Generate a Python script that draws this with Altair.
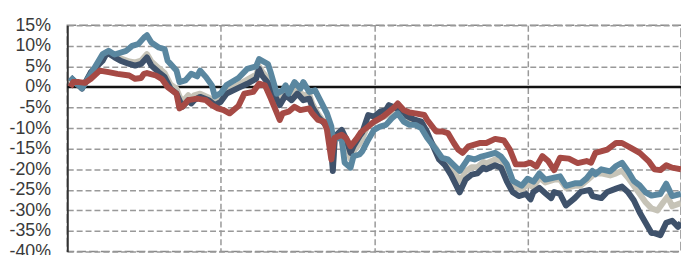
import altair as alt
import pandas as pd

# ---- data (cumulative return, %, by week) ----
steel_w = [1, 4, 5, 8, 12, 14, 16, 20, 22, 24, 26, 27, 28.5, 31, 33, 34, 37, 38, 40, 42, 44, 45, 47, 49, 50, 52,
           54, 58, 61, 64, 65, 68, 69, 71, 73, 74, 75, 77, 79, 80, 82, 84, 86, 88, 89.5, 90, 92, 93, 94, 96, 97,
           99, 100, 102, 104, 106, 108, 110, 112, 114, 116, 118, 120, 122, 125, 127, 129, 131, 133, 135, 136, 138,
           140, 142, 145, 147, 149, 151, 154, 156, 158, 160, 162, 165, 167, 169, 172, 174, 176, 178, 179, 181, 184,
           186, 188, 190, 192, 194, 196, 198, 201, 203, 205, 208]
steel_v = [2.4, 0.4, -0.3, 3.2, 8.0, 8.8, 7.9, 8.8, 10.0, 10.4, 12.0, 12.6, 10.8, 9.6, 9.2, 6.4, 4.0, 1.2, 1.6, 3.2,
           2.6, 4.0, 2.4, 0.4, -2.3, -1.5, 0.5, 2.2, 4.4, 5.0, 6.8, 5.6, 3.4, -1.6, -0.8, 0.4, -1.6, 1.2, -0.4, 1.2,
           -1.2, -0.8, -3.6, -6.4, -9.6, -12.4, -12.4, -12.8, -18.4, -19.6, -16.8, -16.4, -15.6, -12.8, -10.4, -9.6,
           -9.2, -7.6, -6.4, -8.4, -9.2, -9.2, -10.0, -12.4, -15.2, -17.2, -17.6, -19.0, -20.4, -18.3, -17.2, -17.6,
           -17.0, -16.6, -16.0, -16.9, -18.8, -22.8, -24.0, -22.3, -23.0, -21.0, -22.5, -22.0, -21.7, -24.0, -23.4,
           -23.4, -22.2, -20.4, -21.2, -20.0, -20.5, -19.2, -18.4, -20.4, -22.8, -23.9, -25.6, -26.4, -26.0, -23.5,
           -26.5, -26.0]

navy_w = [1, 5, 8, 12, 13.5, 16, 18, 21, 23, 25, 27, 28.5, 31, 33, 35, 37, 38, 39, 41, 42, 43, 45, 48, 50, 52, 54,
          58, 61, 64, 65, 66, 68, 70, 72, 74, 76, 78, 80, 82, 83, 85, 88, 89, 90, 90.7, 93, 94.5, 96, 97, 99, 100,
          102, 104, 106, 108, 109, 111, 114, 115, 116, 118, 120, 122, 124, 126, 128, 130, 133, 135, 137, 139, 141,
          142, 145, 147, 149, 151, 153, 155.5, 157, 158, 160, 162, 164, 165, 167, 169, 172, 174, 177, 178, 181, 183,
          186, 188, 190, 192, 194, 196, 198, 199, 201, 203, 205, 207, 208]
navy_v = [2.4, -0.4, 3.6, 6.4, 8.4, 7.2, 6.4, 5.6, 5.2, 5.6, 7.2, 5.2, 3.6, 2.4, -0.4, -1.6, -3.2, -4.8, -3.2, -4.0,
          -3.2, -2.4, -3.2, -4.4, -3.6, -1.6, -0.2, 0.8, 2.0, 4.4, 2.8, 1.0, -1.6, -4.4, -2.0, -3.2, -1.6, -3.2, -2.8,
          -4.8, -7.2, -9.6, -11.0, -20.4, -12.0, -10.4, -12.6, -16.0, -14.4, -12.0, -11.0, -6.8, -7.2, -6.0, -5.6,
          -4.4, -5.0, -6.0, -7.0, -7.4, -8.0, -8.4, -11.0, -14.4, -17.6, -19.0, -21.3, -25.6, -22.5, -21.3, -21.0,
          -19.6, -20.0, -19.0, -19.6, -23.0, -25.6, -26.5, -26.0, -27.3, -25.5, -24.5, -25.8, -27.0, -25.5, -26.0,
          -28.8, -27.0, -25.5, -25.0, -26.5, -27.0, -25.5, -24.7, -24.2, -25.5, -27.5, -30.5, -33.0, -35.5, -35.5,
          -36.0, -33.0, -32.5, -34.0, -33.0]

gray_w = [1, 5, 8, 12, 13.5, 16, 18, 21, 23, 25, 27, 28.5, 31, 33, 35, 37, 38, 39, 41, 42, 43, 45, 48, 50, 52, 54,
          58, 61, 64, 65, 66, 68, 70, 72, 74, 76, 78, 80, 82, 83, 85, 88, 89, 90, 90.7, 93, 94.5, 96, 97, 99, 100,
          102, 104, 106, 108, 110, 112, 114, 116, 118, 120, 122, 125, 127, 129, 131, 133, 135, 137, 139, 141, 142,
          145, 147, 149, 151, 154, 156, 158, 160, 162, 165, 167, 169, 172, 174, 176, 178, 179, 181, 184, 186, 188,
          190, 192, 194, 196, 198, 200, 202, 203.5, 205, 208]
gray_v = [2.0, -0.2, 3.4, 6.8, 8.2, 7.6, 7.0, 6.2, 6.0, 6.4, 8.0, 6.2, 4.6, 3.4, 0.6, -0.4, -2.2, -3.6, -2.0, -2.8,
          -2.0, -1.6, -2.6, -3.8, -3.0, -0.8, 0.6, 1.8, 3.0, 5.0, 3.8, 2.0, -0.6, -3.4, -1.2, -2.2, -0.6, -2.0, -1.8,
          -4.0, -6.6, -9.4, -11.0, -19.0, -12.2, -11.0, -13.5, -17.5, -15.6, -13.8, -12.5, -9.0, -8.6, -7.6, -7.0,
          -6.2, -5.6, -7.2, -8.4, -8.6, -9.2, -12.0, -15.0, -17.8, -18.6, -20.0, -23.0, -20.5, -19.5, -19.5, -18.2,
          -18.6, -17.6, -17.8, -19.8, -23.8, -25.0, -23.5, -24.4, -22.0, -23.2, -22.5, -22.5, -24.5, -24.0, -24.0,
          -22.8, -21.5, -21.0, -21.0, -21.5, -21.0, -20.3, -22.0, -24.0, -26.0, -28.0, -29.5, -30.0, -28.0, -26.6,
          -29.0, -28.2]

red_w = [1, 2, 4, 6, 8, 11, 14, 17, 21, 23, 25, 26, 27, 30, 32, 34, 37, 38, 39, 41, 44, 47, 49, 51, 53, 55, 58, 60,
         63, 65, 67, 69, 72, 73, 75, 77, 79, 82, 83, 85, 87, 88, 89.5, 90.5, 93, 94.5, 96, 98, 99.5, 102, 104, 107,
         109, 111, 112, 114, 116, 118, 121, 122, 125, 127, 129, 131, 132.5, 134, 136, 138, 140, 142, 145, 148, 150,
         152, 155, 157, 159, 161, 163, 165, 167, 170, 173, 176, 177.5, 179, 183, 186, 188, 191, 194, 197, 199, 201,
         203, 205, 208]
red_v = [0.0, 1.2, 1.2, 1.0, 2.0, 4.0, 3.6, 3.2, 2.8, 2.0, 2.2, 3.2, 3.4, 2.8, 2.0, 0.0, -1.6, -5.2, -4.8, -3.2,
         -2.8, -3.2, -4.4, -5.2, -5.6, -6.4, -4.6, -1.6, -1.2, 0.8, 0.4, -2.8, -8.0, -6.4, -6.0, -4.8, -5.6, -5.2,
         -6.4, -8.0, -8.4, -10.4, -17.6, -12.4, -11.6, -12.4, -14.4, -12.6, -11.0, -9.6, -8.4, -7.2, -6.0, -4.8,
         -4.0, -5.6, -6.2, -6.4, -6.8, -8.0, -10.8, -10.8, -11.2, -13.6, -15.2, -16.0, -14.4, -14.0, -13.6, -13.6,
         -12.6, -13.0, -15.2, -18.8, -18.8, -18.4, -19.3, -16.8, -18.0, -20.2, -17.2, -17.4, -18.5, -18.0, -18.4,
         -16.0, -15.2, -13.6, -13.6, -14.8, -16.0, -18.0, -20.0, -20.2, -19.0, -19.6, -20.0]

series = [
    ("gray", gray_w, gray_v, "#c6c3b7"),
    ("navy", navy_w, navy_v, "#3f526b"),
    ("steel", steel_w, steel_v, "#5a87a0"),
    ("red", red_w, red_v, "#a64a45"),
]

y_ticks = list(range(-40, 16, 5))
x_grid = [52, 104, 156]

frames = [pd.DataFrame({"week": w, "value": v, "series": n}) for n, w, v, _ in series]
df = pd.concat(frames, ignore_index=True)

x_enc = alt.X(
    "week:Q",
    scale=alt.Scale(domain=[0, 208], nice=False, zero=False),
    axis=alt.Axis(values=x_grid, labels=False, ticks=False, domain=False, grid=True,
                  gridDash=[6, 3], gridColor="#999999", gridWidth=1.5, title=None),
)
y_axis = alt.Axis(values=y_ticks, labelExpr="datum.value + '%'", ticks=False, labelPadding=17,
                  labelOverlap=False, labelBound=False,
                  labelFont="Liberation Sans", labelFontSize=18, labelColor="#3a3a3a",
                  domain=True, domainColor="#333333", domainWidth=2,
                  grid=True, gridDash=[6, 3], gridColor="#999999", gridWidth=1.5, title=None)
y_enc = alt.Y("value:Q", scale=alt.Scale(domain=[-40, 15], nice=False, zero=False), axis=y_axis)

zero = alt.Chart(pd.DataFrame({"value": [0]})).mark_rule(color="#111111", strokeWidth=2.5).encode(y=y_enc)

layers = [zero]
for n, _, _, c in series:
    layers.append(
        alt.Chart(df).transform_filter(alt.datum.series == n)
        .mark_line(color=c, strokeWidth=6, strokeJoin="round", clip=True)
        .encode(x=x_enc, y=y_enc)
    )

chart = alt.layer(*layers).properties(
    width=621, height=229,
    autosize=alt.AutoSizeParams(type="none"),
    padding={"left": 60, "top": 16, "right": 0, "bottom": 8},
).configure_view(
    stroke="#888888", strokeDash=[9, 3], strokeWidth=1.5
).configure_axis(labelOverlap=False)

chart.save("out.html", embed_options={"renderer": "svg", "actions": False})
